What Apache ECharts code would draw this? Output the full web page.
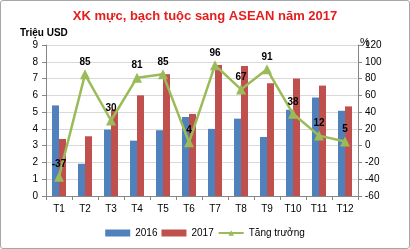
<!DOCTYPE html>
<html><head><meta charset="utf-8">
<script src="https://cdn.jsdelivr.net/npm/echarts@6/dist/echarts.min.js"></script>
<style>html,body{margin:0;padding:0;background:#fff}#c{width:408px;height:247px;border:1px solid #a6a6a6;border-radius:3px}</style>
</head><body><div id="c"></div>
<script>
const categories = ['T1','T2','T3','T4','T5','T6','T7','T8','T9','T10','T11','T12'];
const values2016 = [5.4, 1.92, 3.96, 3.3, 3.92, 4.71, 4.0, 4.61, 3.52, 5.14, 5.87, 5.08];
const values2017 = [3.4, 3.56, 5.14, 6.0, 7.26, 4.89, 7.81, 7.75, 6.72, 7.0, 6.58, 5.34];
const growth = [-37, 85, 30, 81, 85, 4, 96, 67, 91, 38, 12, 5];
const leftTicks = [0,1,2,3,4,5,6,7,8,9];
const rightTicks = [-60,-40,-20,0,20,40,60,80,100,120];

const chart = echarts.init(document.getElementById('c'));
const font = 'Liberation Sans, Arial, sans-serif';
chart.setOption({
  animation: false,
  textStyle: {fontFamily: font},
  title: [
    {text: 'XK mực, bạch tuộc sang ASEAN năm 2017', left: 'center', top: 4,
     textStyle: {color: '#e41e1e', fontSize: 13, fontWeight: 'bold', fontFamily: font}},
    {text: 'Triệu USD', left: 14, top: 22, textStyle: {color: '#000', fontSize: 10, fontWeight: 'bold', fontFamily: font}},
    {text: '%', left: 354, top: 31, textStyle: {color: '#000', fontSize: 11, fontWeight: 'normal', fontFamily: font}}
  ],
  grid: {left: 45, right: 51, top: 44, bottom: 52},
  legend: {
    bottom: 5, left: 'center', itemGap: 4, itemWidth: 25, itemHeight: 7,
    textStyle: {fontSize: 10, color: '#000', fontFamily: font},
    data: [{name: '2016', icon: 'rect'}, {name: '2017', icon: 'rect'}, {name: 'Tăng trưởng'}]
  },
  xAxis: {
    type: 'category', data: categories,
    axisLine: {lineStyle: {color: '#868686'}},
    axisTick: {show: true, lineStyle: {color: '#868686'}, length: 4},
    axisLabel: {color: '#000', fontSize: 10, margin: 8}
  },
  yAxis: [
    {type: 'value', min: 0, max: 9, interval: 1,
     axisLine: {show: true, lineStyle: {color: '#868686'}},
     axisTick: {show: true, length: 4, lineStyle: {color: '#868686'}},
     axisLabel: {color: '#000', fontSize: 10, margin: 8, formatter: v => leftTicks.includes(v) ? String(v) : ''},
     splitLine: {lineStyle: {color: '#d9d9d9'}}},
    {type: 'value', min: -60, max: 120, interval: 20, position: 'right',
     axisLine: {show: true, lineStyle: {color: '#868686'}},
     axisTick: {show: true, length: 4, lineStyle: {color: '#868686'}},
     axisLabel: {color: '#000', fontSize: 10, margin: 7, formatter: v => rightTicks.includes(v) ? String(v) : ''},
     splitLine: {show: false}}
  ],
  series: [
    {name: '2016', type: 'bar', data: values2016, itemStyle: {color: '#4f81bd'}, barWidth: 7, barGap: '0%'},
    {name: '2017', type: 'bar', data: values2017, itemStyle: {color: '#c0504d'}, barWidth: 7},
    {name: 'Tăng trưởng', type: 'line', yAxisIndex: 1, data: growth,
     symbol: 'triangle', symbolSize: 10,
     lineStyle: {color: '#9bbb59', width: 2.5}, itemStyle: {color: '#9bbb59'},
     label: {show: true, position: 'top', distance: 2, color: '#000', fontSize: 10, fontWeight: 'bold', fontFamily: font}}
  ]
});
</script></body></html>
